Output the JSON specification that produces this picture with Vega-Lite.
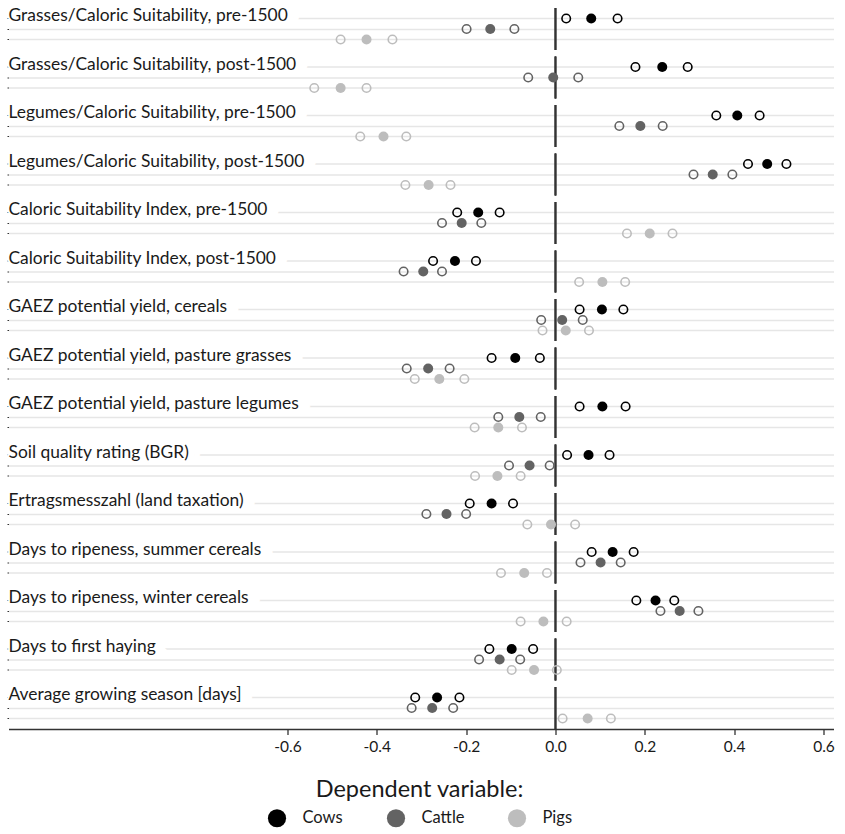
{
  "$schema": "https://vega.github.io/schema/vega-lite/v6.json",
  "padding": {"left": 6.5, "top": 7, "right": 10, "bottom": 2},
  "background": "white",
  "bounds": "flush",
  "datasets": {
    "coefs": [
      {"outcome": "Grasses/Caloric Suitability, pre-1500", "animal": "Cows", "lo": 0.024, "est": 0.080, "hi": 0.139},
      {"outcome": "Grasses/Caloric Suitability, pre-1500", "animal": "Cattle", "lo": -0.199, "est": -0.146, "hi": -0.092},
      {"outcome": "Grasses/Caloric Suitability, pre-1500", "animal": "Pigs", "lo": -0.481, "est": -0.423, "hi": -0.365},
      {"outcome": "Grasses/Caloric Suitability, post-1500", "animal": "Cows", "lo": 0.179, "est": 0.239, "hi": 0.296},
      {"outcome": "Grasses/Caloric Suitability, post-1500", "animal": "Cattle", "lo": -0.061, "est": -0.005, "hi": 0.051},
      {"outcome": "Grasses/Caloric Suitability, post-1500", "animal": "Pigs", "lo": -0.540, "est": -0.481, "hi": -0.423},
      {"outcome": "Legumes/Caloric Suitability, pre-1500", "animal": "Cows", "lo": 0.360, "est": 0.407, "hi": 0.457},
      {"outcome": "Legumes/Caloric Suitability, pre-1500", "animal": "Cattle", "lo": 0.143, "est": 0.190, "hi": 0.240},
      {"outcome": "Legumes/Caloric Suitability, pre-1500", "animal": "Pigs", "lo": -0.437, "est": -0.385, "hi": -0.334},
      {"outcome": "Legumes/Caloric Suitability, post-1500", "animal": "Cows", "lo": 0.431, "est": 0.474, "hi": 0.517},
      {"outcome": "Legumes/Caloric Suitability, post-1500", "animal": "Cattle", "lo": 0.309, "est": 0.352, "hi": 0.396},
      {"outcome": "Legumes/Caloric Suitability, post-1500", "animal": "Pigs", "lo": -0.336, "est": -0.284, "hi": -0.235},
      {"outcome": "Caloric Suitability Index, pre-1500", "animal": "Cows", "lo": -0.220, "est": -0.173, "hi": -0.125},
      {"outcome": "Caloric Suitability Index, pre-1500", "animal": "Cattle", "lo": -0.254, "est": -0.210, "hi": -0.166},
      {"outcome": "Caloric Suitability Index, pre-1500", "animal": "Pigs", "lo": 0.160, "est": 0.211, "hi": 0.262},
      {"outcome": "Caloric Suitability Index, post-1500", "animal": "Cows", "lo": -0.274, "est": -0.225, "hi": -0.178},
      {"outcome": "Caloric Suitability Index, post-1500", "animal": "Cattle", "lo": -0.340, "est": -0.296, "hi": -0.254},
      {"outcome": "Caloric Suitability Index, post-1500", "animal": "Pigs", "lo": 0.053, "est": 0.105, "hi": 0.156},
      {"outcome": "GAEZ potential yield, cereals", "animal": "Cows", "lo": 0.054, "est": 0.104, "hi": 0.152},
      {"outcome": "GAEZ potential yield, cereals", "animal": "Cattle", "lo": -0.032, "est": 0.015, "hi": 0.061},
      {"outcome": "GAEZ potential yield, cereals", "animal": "Pigs", "lo": -0.029, "est": 0.023, "hi": 0.075},
      {"outcome": "GAEZ potential yield, pasture grasses", "animal": "Cows", "lo": -0.143, "est": -0.090, "hi": -0.035},
      {"outcome": "GAEZ potential yield, pasture grasses", "animal": "Cattle", "lo": -0.333, "est": -0.285, "hi": -0.237},
      {"outcome": "GAEZ potential yield, pasture grasses", "animal": "Pigs", "lo": -0.315, "est": -0.260, "hi": -0.204},
      {"outcome": "GAEZ potential yield, pasture legumes", "animal": "Cows", "lo": 0.054, "est": 0.105, "hi": 0.157},
      {"outcome": "GAEZ potential yield, pasture legumes", "animal": "Cattle", "lo": -0.128, "est": -0.081, "hi": -0.033},
      {"outcome": "GAEZ potential yield, pasture legumes", "animal": "Pigs", "lo": -0.181, "est": -0.128, "hi": -0.075},
      {"outcome": "Soil quality rating (BGR)", "animal": "Cows", "lo": 0.026, "est": 0.074, "hi": 0.121},
      {"outcome": "Soil quality rating (BGR)", "animal": "Cattle", "lo": -0.104, "est": -0.058, "hi": -0.013},
      {"outcome": "Soil quality rating (BGR)", "animal": "Pigs", "lo": -0.180, "est": -0.130, "hi": -0.078},
      {"outcome": "Ertragsmesszahl (land taxation)", "animal": "Cows", "lo": -0.192, "est": -0.143, "hi": -0.095},
      {"outcome": "Ertragsmesszahl (land taxation)", "animal": "Cattle", "lo": -0.289, "est": -0.244, "hi": -0.200},
      {"outcome": "Ertragsmesszahl (land taxation)", "animal": "Pigs", "lo": -0.063, "est": -0.010, "hi": 0.044},
      {"outcome": "Days to ripeness, summer cereals", "animal": "Cows", "lo": 0.081, "est": 0.128, "hi": 0.175},
      {"outcome": "Days to ripeness, summer cereals", "animal": "Cattle", "lo": 0.056, "est": 0.101, "hi": 0.146},
      {"outcome": "Days to ripeness, summer cereals", "animal": "Pigs", "lo": -0.122, "est": -0.070, "hi": -0.019},
      {"outcome": "Days to ripeness, winter cereals", "animal": "Cows", "lo": 0.181, "est": 0.224, "hi": 0.266},
      {"outcome": "Days to ripeness, winter cereals", "animal": "Cattle", "lo": 0.235, "est": 0.278, "hi": 0.320},
      {"outcome": "Days to ripeness, winter cereals", "animal": "Pigs", "lo": -0.078, "est": -0.027, "hi": 0.025},
      {"outcome": "Days to first haying", "animal": "Cows", "lo": -0.148, "est": -0.098, "hi": -0.050},
      {"outcome": "Days to first haying", "animal": "Cattle", "lo": -0.171, "est": -0.125, "hi": -0.079},
      {"outcome": "Days to first haying", "animal": "Pigs", "lo": -0.098, "est": -0.048, "hi": 0.003},
      {"outcome": "Average growing season [days]", "animal": "Cows", "lo": -0.314, "est": -0.265, "hi": -0.215},
      {"outcome": "Average growing season [days]", "animal": "Cattle", "lo": -0.322, "est": -0.276, "hi": -0.229},
      {"outcome": "Average growing season [days]", "animal": "Pigs", "lo": 0.016, "est": 0.072, "hi": 0.124}
    ]
  },
  "data": {"name": "coefs"},
  "facet": {
    "row": {
      "field": "outcome",
      "type": "nominal",
      "title": null,
      "header": null,
      "sort": [
        "Grasses/Caloric Suitability, pre-1500",
        "Grasses/Caloric Suitability, post-1500",
        "Legumes/Caloric Suitability, pre-1500",
        "Legumes/Caloric Suitability, post-1500",
        "Caloric Suitability Index, pre-1500",
        "Caloric Suitability Index, post-1500",
        "GAEZ potential yield, cereals",
        "GAEZ potential yield, pasture grasses",
        "GAEZ potential yield, pasture legumes",
        "Soil quality rating (BGR)",
        "Ertragsmesszahl (land taxation)",
        "Days to ripeness, summer cereals",
        "Days to ripeness, winter cereals",
        "Days to first haying",
        "Average growing season [days]"
      ]
    }
  },
  "spacing": 6.5,
  "spec": {
    "width": 825,
    "height": 42,
    "encoding": {
      "y": {
        "field": "animal",
        "type": "nominal",
        "sort": ["Cows", "Cattle", "Pigs"],
        "scale": {"type": "band", "domain": ["Cows", "Cattle", "Pigs"], "paddingInner": 0, "paddingOuter": 0.5},
        "axis": {
          "title": null,
          "labels": false,
          "domain": false,
          "ticks": true,
          "tickSize": 1.5,
          "tickColor": "#333333",
          "tickWidth": 1,
          "grid": true,
          "gridColor": "#e6e6e6",
          "gridWidth": 1.5,
          "bandPosition": 0.5
        }
      }
    },
    "layer": [
      {
        "mark": {"type": "rule", "color": "#333333", "strokeWidth": 1.7},
        "encoding": {
          "x": {
            "datum": 0,
            "type": "quantitative",
            "scale": {"domain": [-1.2245, 0.6224], "nice": false, "zero": false},
            "axis": {
              "title": null,
              "values": [-0.6, -0.4, -0.2, 0, 0.2, 0.4, 0.6],
              "format": ".1f",
              "labelExpr": "replace(datum.label, '\u2212', '-')",
              "grid": false,
              "domainColor": "#333333",
              "domainWidth": 1.3,
              "tickColor": "#333333",
              "tickWidth": 1.3,
              "tickSize": 5.5,
              "labelFont": "Lato",
              "labelFontSize": 15.5,
              "labelColor": "#1a1a1a",
              "labelPadding": 5
            }
          },
          "y": null
        }
      },
      {
        "transform": [{"filter": "datum.animal === 'Cows'"}],
        "mark": {"type": "text", "align": "left", "baseline": "alphabetic", "dy": 2.7, "font": "Lato", "fontSize": 17.4, "fill": "white", "stroke": "white", "strokeWidth": 4, "dx": 0},
        "encoding": {"x": {"datum": -1.2245, "type": "quantitative"}, "text": {"field": "outcome"}}
      },
      {
        "transform": [{"filter": "datum.animal === 'Cows'"}],
        "mark": {"type": "text", "align": "left", "baseline": "alphabetic", "dy": 2.7, "font": "Lato", "fontSize": 17.4, "fill": "white", "stroke": "white", "strokeWidth": 4, "dx": 5},
        "encoding": {"x": {"datum": -1.2245, "type": "quantitative"}, "text": {"field": "outcome"}}
      },
      {
        "transform": [{"filter": "datum.animal === 'Cows'"}],
        "mark": {"type": "text", "align": "left", "baseline": "alphabetic", "dy": 2.7, "font": "Lato", "fontSize": 17.4, "fill": "white", "stroke": "white", "strokeWidth": 4, "dx": 10},
        "encoding": {"x": {"datum": -1.2245, "type": "quantitative"}, "text": {"field": "outcome"}}
      },
      {
        "transform": [{"filter": "datum.animal === 'Cows'"}],
        "mark": {"type": "text", "align": "left", "baseline": "alphabetic", "dy": 2.7, "font": "Lato", "fontSize": 17.4, "color": "#1a1a1a"},
        "encoding": {"x": {"datum": -1.2245, "type": "quantitative"}, "text": {"field": "outcome"}}
      },
      {
        "mark": {"type": "point", "shape": "circle", "filled": false, "size": 72, "strokeWidth": 1.6, "opacity": 1},
        "encoding": {
          "x": {"field": "lo", "type": "quantitative"},
          "stroke": {"field": "animal", "type": "nominal", "scale": {"domain": ["Cows", "Cattle", "Pigs"], "range": ["#000000", "#636363", "#bdbdbd"]}}
        }
      },
      {
        "mark": {"type": "point", "shape": "circle", "filled": false, "size": 72, "strokeWidth": 1.6, "opacity": 1},
        "encoding": {
          "x": {"field": "hi", "type": "quantitative"},
          "stroke": {"field": "animal", "type": "nominal", "scale": {"domain": ["Cows", "Cattle", "Pigs"], "range": ["#000000", "#636363", "#bdbdbd"]}}
        }
      },
      {
        "mark": {"type": "point", "shape": "circle", "filled": true, "size": 100, "strokeWidth": 0, "opacity": 1},
        "encoding": {
          "x": {"field": "est", "type": "quantitative"},
          "fill": {
            "field": "animal",
            "type": "nominal",
            "scale": {"domain": ["Cows", "Cattle", "Pigs"], "range": ["#000000", "#636363", "#bdbdbd"]},
            "legend": {
              "title": "Dependent variable:",
              "orient": "bottom",
              "direction": "horizontal",
              "titleAnchor": "middle",
              "titleOrient": "top",
              "titleFont": "Lato",
              "titleFontSize": 23.5,
              "titleFontWeight": "normal",
              "titleColor": "#1a1a1a",
              "titleLimit": 500,
              "titlePadding": 7,
              "labelFont": "Lato",
              "labelFontSize": 16.5,
              "labelColor": "#1a1a1a",
              "labelOffset": 16,
              "columnPadding": 43,
              "symbolType": "circle",
              "symbolSize": 330,
              "symbolStrokeWidth": 0,
              "offset": 23
            }
          }
        }
      }
    ]
  },
  "config": {
    "font": "Lato",
    "view": {"stroke": null},
    "legend": {"layout": {"bottom": {"anchor": "middle"}}}
  }
}
